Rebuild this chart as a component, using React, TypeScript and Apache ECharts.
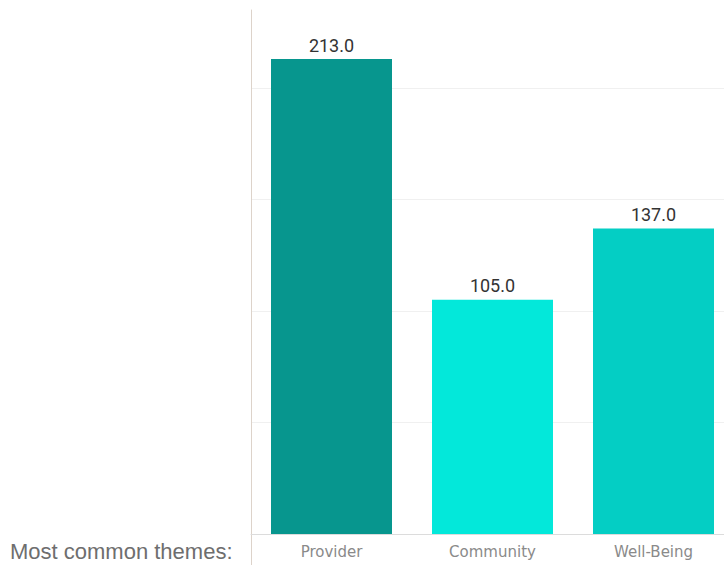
import React, { useEffect, useRef } from "react";
import * as echarts from "echarts";

const categories = ["Provider", "Community", "Well-Being"];
const values = [213, 105, 137];
const barColors = ["#07968E", "#03E8DA", "#04CEC4"];
const yTicks = [0, 50, 100, 150, 200];
const sideLabel = "Most common themes:";

export default function App() {
  const ref = useRef<HTMLDivElement>(null);
  useEffect(() => {
    document.body.style.margin = "0";
    const chart = echarts.init(ref.current!, null, { renderer: "svg" });
    chart.setOption({
      animation: false,
      backgroundColor: "#ffffff",
      grid: { left: 251, top: 10, width: 483, bottom: 31 },
      xAxis: {
        type: "category",
        data: categories,
        axisLine: { show: true, lineStyle: { color: "#dcdcdc", width: 1 } },
        axisTick: { show: false },
        axisLabel: {
          color: "#8a8a8a",
          fontFamily: "DejaVu Sans",
          fontSize: 15,
          margin: 10,
        },
      },
      yAxis: {
        type: "value",
        min: yTicks[0],
        max: 235,
        interval: yTicks[1] - yTicks[0],
        axisLine: { show: true, lineStyle: { color: "#ddd3ca", width: 1 } },
        axisTick: { show: false },
        axisLabel: { show: false },
        splitLine: {
          show: true,
          showMinLine: false,
          showMaxLine: false,
          lineStyle: { color: "#f0f0f0", width: 1 },
        },
      },
      graphic: [
        {
          type: "line",
          shape: { x1: 251.5, y1: 534, x2: 251.5, y2: 565 },
          style: { stroke: "#ddd3ca", lineWidth: 1 },
        },
        {
          type: "text",
          left: 10,
          top: 540,
          style: {
            text: sideLabel,
            fill: "#6e6e6e",
            font: "22px 'Liberation Sans', Arial, sans-serif",
          },
        },
      ],
      series: [
        {
          type: "bar",
          barWidth: 121,
          data: values.map((v, i) => ({
            value: v,
            itemStyle: { color: barColors[i] },
          })),
          label: {
            show: true,
            position: "top",
            distance: 5,
            color: "#333333",
            fontFamily: "Roboto",
            fontSize: 18,
            formatter: (p: any) => Number(p.value).toFixed(1),
          },
        },
      ],
    });
    return () => chart.dispose();
  }, []);
  return (
    <div style={{ width: 724, height: 565, overflow: "hidden", position: "relative" }}>
      <div ref={ref} style={{ width: 745, height: 565 }} />
    </div>
  );
}
